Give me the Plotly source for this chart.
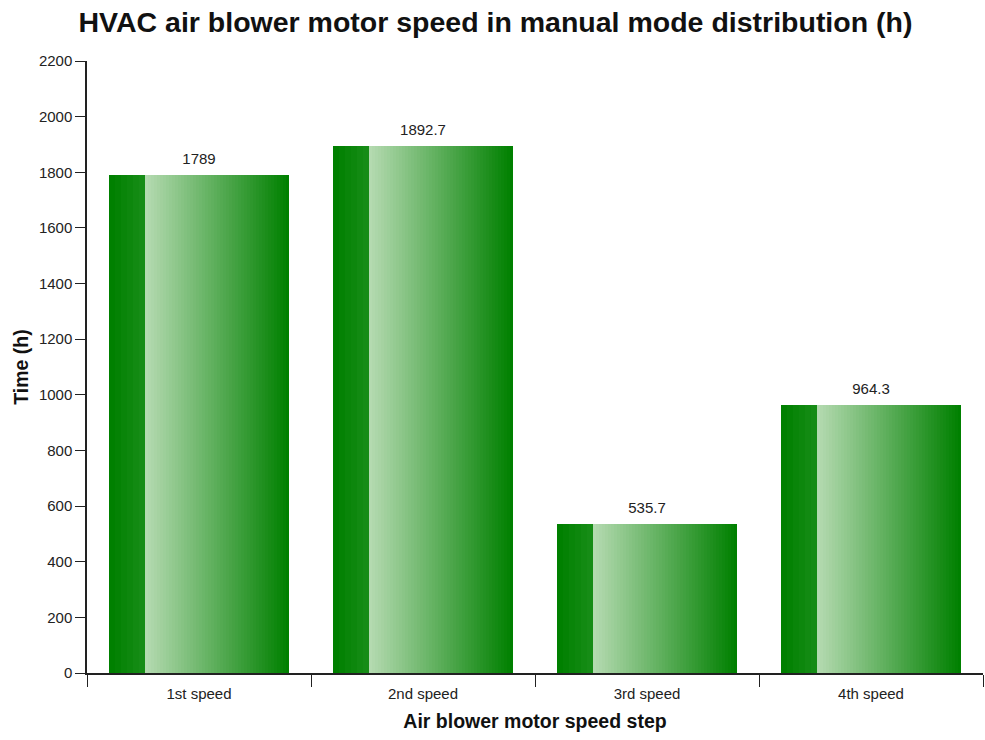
import plotly.graph_objects as go

# Hours spent at each blower speed step in manual mode
speed_steps = ["1st speed", "2nd speed", "3rd speed", "4th speed"]
hours = [1789, 1892.7, 535.7, 964.3]
value_labels = ["1789", "1892.7", "535.7", "964.3"]

FONT = "Arial, Liberation Sans, sans-serif"

# Bar geometry in category units (bar spans -0.4 .. +0.4 around the centre)
BAR_LEFT = -0.4
SOLID_W = 0.16
GRAD_W = 0.64
SOLID_SLICES = 6
GRAD_SLICES = 48

DARK = (0, 128, 0)
SOLID_EDGE = (22, 140, 22)
LIGHT = (180, 218, 176)


def mix(a, b, t):
    return "rgb({},{},{})".format(*[round(a[i] + (b[i] - a[i]) * t) for i in range(3)])


fig = go.Figure()

# Each bar is built from thin vertical slices so it can carry a shaded face
for k in range(SOLID_SLICES):
    w = SOLID_W / SOLID_SLICES
    fig.add_trace(go.Bar(
        x=speed_steps, y=hours,
        offset=BAR_LEFT + k * w, width=w * 1.02,
        marker=dict(color=mix(DARK, SOLID_EDGE, k / (SOLID_SLICES - 1)), line=dict(width=0)),
        hoverinfo="skip", showlegend=False,
    ))

for k in range(GRAD_SLICES):
    w = GRAD_W / GRAD_SLICES
    fig.add_trace(go.Bar(
        x=speed_steps, y=hours,
        offset=BAR_LEFT + SOLID_W + k * w, width=w * 1.02,
        marker=dict(color=mix(LIGHT, DARK, k / (GRAD_SLICES - 1)), line=dict(width=0)),
        hoverinfo="skip", showlegend=False,
    ))

# Value labels above each bar (invisible marker keeps a small gap to the bar top)
fig.add_trace(go.Scatter(
    x=speed_steps, y=hours, mode="markers+text",
    marker=dict(size=10, opacity=0),
    text=value_labels, textposition="top center",
    textfont=dict(family=FONT, size=15, color="#222"),
    hoverinfo="skip", showlegend=False, cliponaxis=False,
))

fig.update_layout(
    width=985, height=740,
    barmode="overlay", bargap=0,
    paper_bgcolor="white", plot_bgcolor="white",
    margin=dict(l=87, r=2, t=61, b=67),
    font=dict(family=FONT, color="#222"),
    title=dict(
        text="<b>HVAC air blower motor speed in manual mode distribution (h)</b>",
        x=0.503, xanchor="center", y=0.97, yanchor="middle",
        font=dict(family=FONT, size=28.5, color="#111"),
    ),
    xaxis=dict(
        type="category", range=[-0.5, 3.5],
        showline=True, linecolor="#222", linewidth=1.5,
        ticks="outside", tickson="boundaries", ticklen=12, tickcolor="#222",
        ticklabelstandoff=6,
        tickfont=dict(family=FONT, size=15, color="#222"),
        showgrid=False, zeroline=False,
        title=dict(text="<b>Air blower motor speed step</b>",
                   font=dict(family=FONT, size=19.5, color="#111"), standoff=14),
    ),
    yaxis=dict(
        range=[0, 2200], dtick=200,
        showline=True, linecolor="#222", linewidth=1.5,
        ticks="outside", ticklen=10, tickcolor="#222",
        tickfont=dict(family=FONT, size=15, color="#222"),
        showgrid=False, zeroline=False,
        title=dict(text="<b>Time (h)</b>",
                   font=dict(family=FONT, size=19.5, color="#111"), standoff=5),
    ),
)

fig.write_html("out.html")
